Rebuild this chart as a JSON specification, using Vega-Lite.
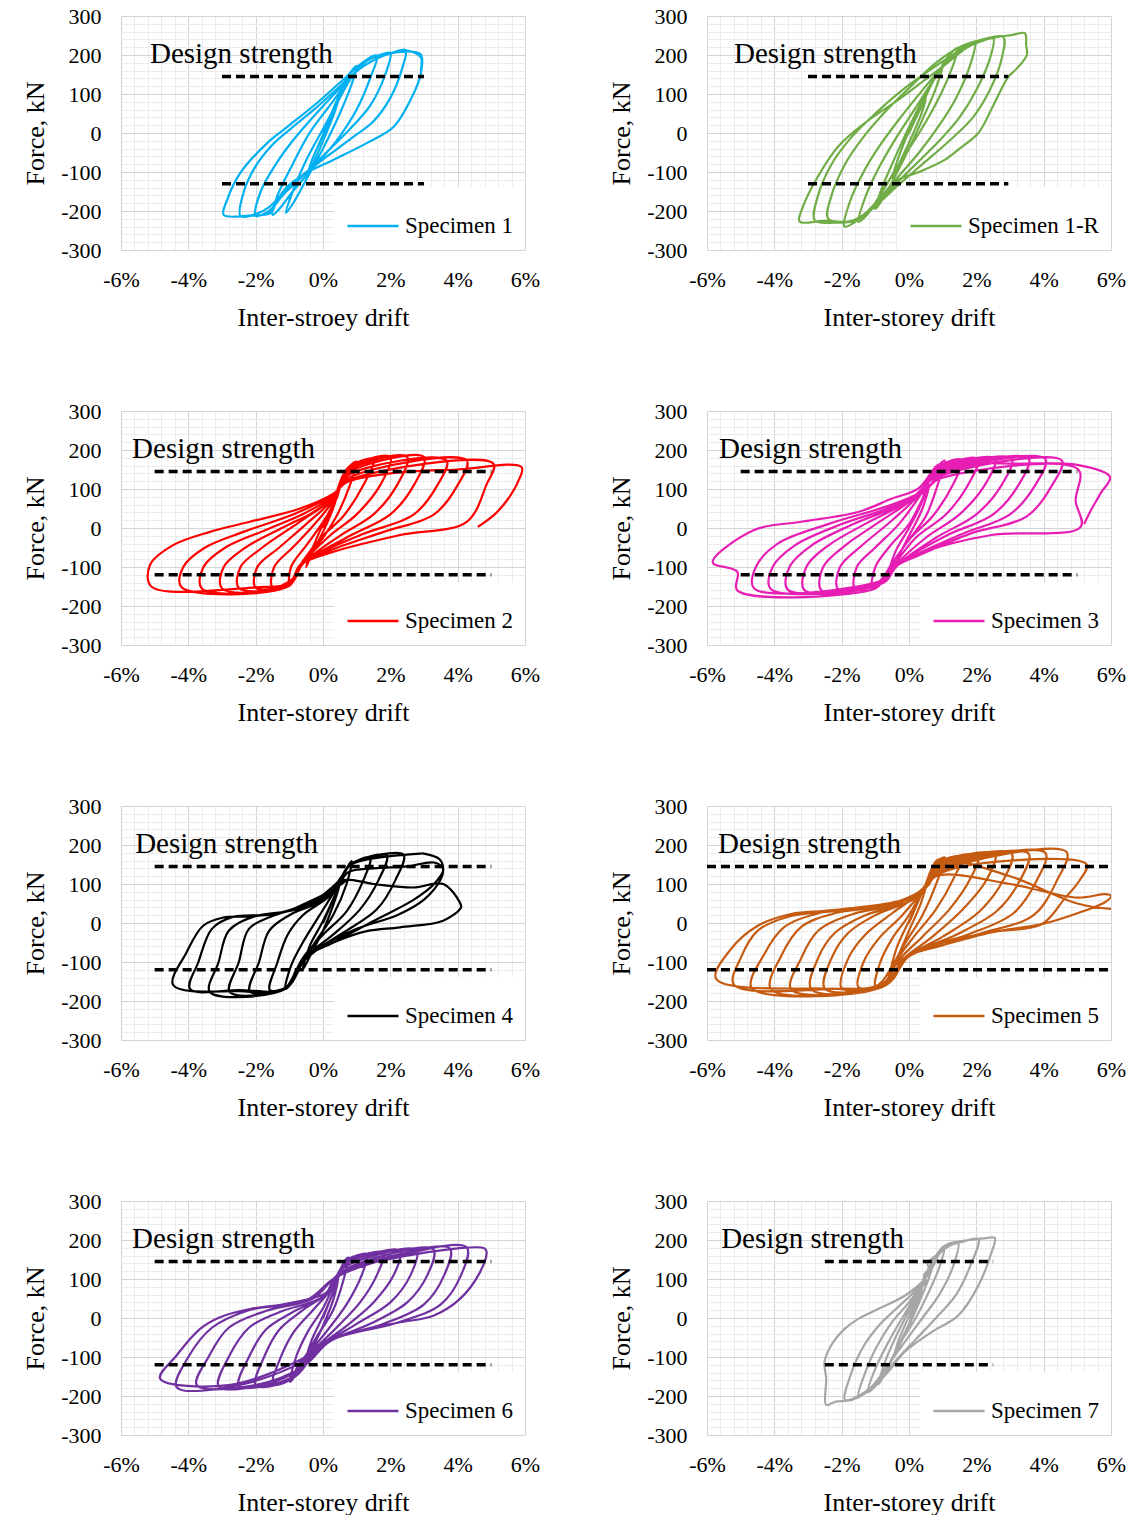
{
"$schema": "https://vega.github.io/schema/vega-lite/v6.json",
"background": "white",
"padding": {"left": 22, "top": 5, "right": 0, "bottom": 0},
"config": {
  "view": {"stroke": null},
  "font": "Liberation Serif",
  "axis": {"grid": true, "ticks": false, "domain": false, "labelFont": "Liberation Serif", "labelFontSize": 22, "labelColor": "#000000", "titleFont": "Liberation Serif", "titleFontSize": 26, "titleFontWeight": "normal", "titleColor": "#000000", "labelOverlap": false, "labelBound": false, "labelFlush": false},
  "axisX": {"labelPadding": 19, "titlePadding": 14},
  "axisY": {"labelPadding": 20, "titlePadding": 12},
  "legend": {"orient": "bottom-right", "offset": 0, "fillColor": "white", "padding": 12, "symbolType": "stroke", "symbolSize": 2600, "symbolStrokeWidth": 2.5, "labelFont": "Liberation Serif", "labelFontSize": 23, "labelColor": "#000000", "labelOffset": 5, "labelLimit": 300}
},
"datasets": {
"ds": [{"t": "Design strength"}],
"s1": [{"d":0,"f":0},{"d":0.25,"f":50},{"d":0.5,"f":100},{"d":0.35,"f":55},{"d":0,"f":-20},{"d":-0.3,"f":-80},{"d":-0.5,"f":-120},{"d":-0.35,"f":-75},{"d":0,"f":-5},{"d":0.4,"f":75},
{"d":0.7,"f":140},{"d":1.0,"f":172},{"d":0.85,"f":125},{"d":0.5,"f":50},{"d":0,"f":-40},{"d":-0.5,"f":-120},{"d":-0.85,"f":-175},{"d":-1.1,"f":-205},{"d":-0.9,"f":-150},{"d":-0.5,"f":-70},{"d":0,"f":10},{"d":0.5,"f":90},
{"d":0.9,"f":150},{"d":1.3,"f":188},{"d":1.6,"f":198},{"d":1.4,"f":140},{"d":1.0,"f":60},{"d":0.4,"f":-20},{"d":-0.3,"f":-90},{"d":-0.9,"f":-150},{"d":-1.3,"f":-195},{"d":-1.5,"f":-210},{"d":-1.35,"f":-160},{"d":-0.9,"f":-80},{"d":-0.4,"f":0},{"d":0.2,"f":70},{"d":0.8,"f":140},
{"d":1.3,"f":185},{"d":1.8,"f":203},{"d":2.0,"f":205},{"d":1.85,"f":150},{"d":1.4,"f":70},{"d":0.8,"f":10},{"d":0.1,"f":-50},{"d":-0.6,"f":-110},{"d":-1.2,"f":-160},{"d":-1.6,"f":-200},{"d":-2.0,"f":-212},{"d":-1.85,"f":-150},{"d":-1.4,"f":-80},{"d":-0.9,"f":-20},{"d":-0.2,"f":50},{"d":0.5,"f":115},{"d":1.1,"f":165},
{"d":1.7,"f":195},{"d":2.1,"f":207},{"d":2.45,"f":213},{"d":2.35,"f":165},{"d":2.0,"f":90},{"d":1.5,"f":30},{"d":0.9,"f":-10},{"d":0.2,"f":-55},{"d":-0.5,"f":-100},{"d":-1.1,"f":-145},{"d":-1.6,"f":-190},{"d":-2.0,"f":-208},{"d":-2.45,"f":-213},{"d":-2.35,"f":-150},{"d":-2.0,"f":-85},{"d":-1.5,"f":-30},{"d":-0.9,"f":15},{"d":-0.2,"f":65},{"d":0.5,"f":120},{"d":1.1,"f":165},
{"d":1.7,"f":195},{"d":2.3,"f":208},{"d":2.9,"f":202},{"d":2.9,"f":150},{"d":2.6,"f":85},{"d":2.1,"f":16},{"d":1.3,"f":-26},{"d":0.3,"f":-69},{"d":-0.5,"f":-103},{"d":-1.07,"f":-138},{"d":-1.4,"f":-180},{"d":-1.55,"f":-205},{"d":-2.2,"f":-212},{"d":-2.95,"f":-210},{"d":-2.85,"f":-172},{"d":-2.46,"f":-103},{"d":-1.66,"f":-26},{"d":-1.07,"f":15},{"d":-0.18,"f":77},{"d":0.59,"f":136},{"d":1.3,"f":187},{"d":2.0,"f":205},{"d":2.45,"f":212},{"d":2.9,"f":195},{"d":2.9,"f":160}],
"s1r": [{"d":0,"f":0},{"d":0.3,"f":55},{"d":0.5,"f":90},{"d":0.35,"f":45},{"d":0,"f":-25},{"d":-0.3,"f":-80},{"d":-0.5,"f":-115},{"d":-0.3,"f":-60},{"d":0,"f":5},{"d":0.4,"f":75},
{"d":0.7,"f":130},{"d":1.0,"f":172},{"d":0.8,"f":115},{"d":0.4,"f":35},{"d":0,"f":-40},{"d":-0.5,"f":-125},{"d":-0.9,"f":-185},{"d":-1.0,"f":-195},{"d":-0.8,"f":-140},{"d":-0.4,"f":-60},{"d":0,"f":15},{"d":0.5,"f":100},
{"d":0.9,"f":160},{"d":1.2,"f":200},{"d":1.45,"f":218},{"d":1.25,"f":160},{"d":0.8,"f":75},{"d":0.3,"f":0},{"d":-0.3,"f":-80},{"d":-0.9,"f":-165},{"d":-1.3,"f":-215},{"d":-1.5,"f":-228},{"d":-1.3,"f":-165},{"d":-0.9,"f":-90},{"d":-0.4,"f":-15},{"d":0.2,"f":65},{"d":0.8,"f":145},
{"d":1.3,"f":200},{"d":1.7,"f":225},{"d":1.96,"f":234},{"d":1.8,"f":170},{"d":1.4,"f":90},{"d":0.9,"f":20},{"d":0.3,"f":-50},{"d":-0.4,"f":-120},{"d":-1.0,"f":-180},{"d":-1.5,"f":-222},{"d":-1.92,"f":-240},{"d":-1.75,"f":-175},{"d":-1.35,"f":-100},{"d":-0.85,"f":-30},{"d":-0.25,"f":40},{"d":0.4,"f":110},{"d":1.0,"f":170},
{"d":1.6,"f":215},{"d":2.1,"f":235},{"d":2.5,"f":243},{"d":2.4,"f":190},{"d":2.0,"f":110},{"d":1.5,"f":40},{"d":0.9,"f":-20},{"d":0.2,"f":-80},{"d":-0.5,"f":-140},{"d":-1.2,"f":-200},{"d":-1.7,"f":-225},{"d":-2.4,"f":-220},{"d":-2.3,"f":-160},{"d":-1.9,"f":-80},{"d":-1.35,"f":-10},{"d":-0.7,"f":55},{"d":0,"f":115},{"d":0.8,"f":180},
{"d":1.5,"f":220},{"d":2.2,"f":240},{"d":2.8,"f":246},{"d":2.75,"f":190},{"d":2.4,"f":110},{"d":1.9,"f":40},{"d":1.2,"f":-20},{"d":0.4,"f":-80},{"d":-0.4,"f":-140},{"d":-1.1,"f":-195},{"d":-1.6,"f":-225},{"d":-2.2,"f":-230},{"d":-2.8,"f":-224},{"d":-2.7,"f":-160},{"d":-2.3,"f":-80},{"d":-1.7,"f":-10},{"d":-1.0,"f":50},{"d":-0.2,"f":110},{"d":0.6,"f":160},
{"d":1.3,"f":200},{"d":2.0,"f":232},{"d":2.6,"f":246},{"d":3.05,"f":251},{"d":3.44,"f":256},{"d":3.48,"f":225},{"d":3.5,"f":200},{"d":3.2,"f":165},{"d":2.95,"f":144},{"d":2.5,"f":70},{"d":2.06,"f":0},{"d":1.5,"f":-40},{"d":1.06,"f":-69},{"d":0.3,"f":-100},{"d":-0.32,"f":-120},{"d":-0.92,"f":-172},{"d":-1.32,"f":-215},{"d":-1.8,"f":-228},{"d":-2.5,"f":-225},{"d":-3.25,"f":-227},{"d":-3.15,"f":-189},{"d":-2.71,"f":-112},{"d":-2.11,"f":-35},{"d":-1.32,"f":25},{"d":-0.32,"f":85},{"d":0.47,"f":136},{"d":1.06,"f":174},{"d":1.76,"f":221},{"d":2.3,"f":240}],
"s2": [{"d":0,"f":0},{"d":0.3,"f":60},{"d":0.5,"f":110},{"d":0.3,"f":50},{"d":0,"f":-10},{"d":-0.3,"f":-60},{"d":-0.5,"f":-100},{"d":-0.3,"f":-50},{"d":0,"f":10},{"d":0.4,"f":80},
{"d":0.7,"f":150},{"d":1.0,"f":170},{"d":0.8,"f":110},{"d":0.4,"f":30},{"d":0,"f":-25},{"d":-0.5,"f":-75},{"d":-0.8,"f":-115},{"d":-1.0,"f":-145},{"d":-0.95,"f":-100},{"d":-0.5,"f":-45},{"d":0,"f":15},{"d":0.4,"f":75},
{"d":0.7,"f":150},{"d":1.5,"f":177},{"d":1.2,"f":110},{"d":0.6,"f":30},{"d":0,"f":-20},{"d":-0.6,"f":-85},{"d":-0.9,"f":-130},{"d":-1.5,"f":-152},{"d":-1.45,"f":-100},{"d":-0.9,"f":-50},{"d":-0.3,"f":5},{"d":0.3,"f":70},
{"d":0.72,"f":150},{"d":2.0,"f":182},{"d":1.7,"f":110},{"d":1.0,"f":35},{"d":0.2,"f":-20},{"d":-0.6,"f":-90},{"d":-0.95,"f":-140},{"d":-2.0,"f":-153},{"d":-1.95,"f":-100},{"d":-1.3,"f":-50},{"d":-0.5,"f":10},{"d":0.3,"f":75},
{"d":0.72,"f":145},{"d":2.5,"f":182},{"d":2.2,"f":110},{"d":1.5,"f":35},{"d":0.5,"f":-20},{"d":-0.6,"f":-92},{"d":-0.98,"f":-145},{"d":-2.5,"f":-154},{"d":-2.45,"f":-100},{"d":-1.8,"f":-50},{"d":-0.7,"f":15},{"d":0.3,"f":78},
{"d":0.73,"f":140},{"d":3.0,"f":182},{"d":2.7,"f":110},{"d":2.0,"f":35},{"d":0.8,"f":-20},{"d":-0.6,"f":-92},{"d":-1.0,"f":-146},{"d":-3.0,"f":-155},{"d":-2.95,"f":-100},{"d":-2.3,"f":-50},{"d":-1.1,"f":5},{"d":-0.3,"f":40},{"d":0.3,"f":80},
{"d":0.74,"f":135},{"d":3.67,"f":173},{"d":3.4,"f":110},{"d":2.7,"f":35},{"d":1.2,"f":-15},{"d":0,"f":-60},{"d":-0.65,"f":-94},{"d":-1.0,"f":-147},{"d":-3.6,"f":-155},{"d":-3.55,"f":-100},{"d":-2.9,"f":-50},{"d":-1.7,"f":-5},{"d":-0.5,"f":40},{"d":0.3,"f":82},
{"d":0.75,"f":128},{"d":4.27,"f":173},{"d":4.0,"f":110},{"d":3.3,"f":35},{"d":1.8,"f":-10},{"d":0.2,"f":-58},{"d":-0.68,"f":-95},{"d":-1.0,"f":-148},{"d":-4.2,"f":-152},{"d":-4.15,"f":-100},{"d":-3.5,"f":-50},{"d":-2.3,"f":-8},{"d":-0.8,"f":38},{"d":0.3,"f":85},
{"d":0.75,"f":122},{"d":5.06,"f":165},{"d":4.85,"f":110},{"d":4.27,"f":16},{"d":2.29,"f":-18},{"d":0.31,"f":-61},{"d":-0.68,"f":-95},{"d":-0.98,"f":-140},{"d":-2.0,"f":-152},{"d":-5.1,"f":-150},{"d":-5.14,"f":-95},{"d":-4.45,"f":-44},{"d":-3.36,"f":-10},{"d":-2.17,"f":16},{"d":-0.68,"f":50},{"d":0.31,"f":88},{"d":0.7,"f":117},
{"d":2.0,"f":140},{"d":4.0,"f":150},{"d":5.9,"f":156},{"d":5.8,"f":120},{"d":5.5,"f":75},{"d":5.1,"f":35},{"d":4.6,"f":3}],
"s3": [{"d":0,"f":0},{"d":0.3,"f":50},{"d":0.6,"f":110},{"d":0.4,"f":50},{"d":0,"f":-20},{"d":-0.3,"f":-70},{"d":-0.6,"f":-115},{"d":-0.4,"f":-60},{"d":0,"f":0},{"d":0.4,"f":70},
{"d":0.7,"f":140},{"d":1.06,"f":173},{"d":0.85,"f":110},{"d":0.5,"f":30},{"d":0,"f":-30},{"d":-0.5,"f":-90},{"d":-0.8,"f":-130},{"d":-1.1,"f":-155},{"d":-1.0,"f":-100},{"d":-0.6,"f":-50},{"d":0,"f":10},{"d":0.4,"f":75},
{"d":0.75,"f":150},{"d":1.56,"f":175},{"d":1.3,"f":110},{"d":0.7,"f":30},{"d":0,"f":-30},{"d":-0.5,"f":-95},{"d":-0.8,"f":-135},{"d":-1.6,"f":-157},{"d":-1.55,"f":-100},{"d":-1.0,"f":-50},{"d":-0.3,"f":10},{"d":0.3,"f":80},
{"d":0.78,"f":148},{"d":2.05,"f":177},{"d":1.75,"f":110},{"d":1.1,"f":35},{"d":0.2,"f":-25},{"d":-0.45,"f":-95},{"d":-0.8,"f":-135},{"d":-2.1,"f":-158},{"d":-2.05,"f":-100},{"d":-1.4,"f":-45},{"d":-0.5,"f":20},{"d":0.3,"f":85},
{"d":0.8,"f":145},{"d":2.55,"f":178},{"d":2.25,"f":110},{"d":1.5,"f":35},{"d":0.5,"f":-25},{"d":-0.4,"f":-95},{"d":-0.8,"f":-140},{"d":-2.6,"f":-160},{"d":-2.55,"f":-100},{"d":-1.9,"f":-45},{"d":-0.8,"f":20},{"d":0.2,"f":80},
{"d":0.82,"f":142},{"d":3.05,"f":178},{"d":2.75,"f":110},{"d":2.0,"f":35},{"d":0.8,"f":-25},{"d":-0.35,"f":-95},{"d":-0.75,"f":-140},{"d":-3.1,"f":-160},{"d":-3.05,"f":-100},{"d":-2.4,"f":-45},{"d":-1.2,"f":15},{"d":0.1,"f":75},
{"d":0.84,"f":138},{"d":3.55,"f":178},{"d":3.25,"f":110},{"d":2.5,"f":35},{"d":1.1,"f":-20},{"d":-0.35,"f":-95},{"d":-0.75,"f":-140},{"d":-3.6,"f":-158},{"d":-3.55,"f":-100},{"d":-2.9,"f":-45},{"d":-1.6,"f":12},{"d":0,"f":70},
{"d":0.85,"f":134},{"d":4.05,"f":177},{"d":3.75,"f":110},{"d":3.0,"f":35},{"d":1.5,"f":-18},{"d":-0.33,"f":-95},{"d":-0.73,"f":-135},{"d":-4.1,"f":-157},{"d":-4.05,"f":-100},{"d":-3.4,"f":-45},{"d":-2.0,"f":10},{"d":-0.3,"f":60},{"d":0.5,"f":95},
{"d":0.86,"f":130},{"d":4.54,"f":173},{"d":4.25,"f":110},{"d":3.5,"f":30},{"d":1.8,"f":-15},{"d":0.3,"f":-70},{"d":-0.33,"f":-95},{"d":-0.73,"f":-132},{"d":-4.6,"f":-155},{"d":-4.55,"f":-100},{"d":-3.9,"f":-40},{"d":-2.4,"f":10},{"d":-0.5,"f":60},{"d":0.5,"f":98},
{"d":0.87,"f":125},{"d":5.03,"f":150},{"d":4.95,"f":70},{"d":5.1,"f":3},{"d":2.45,"f":-18},{"d":0.47,"f":-61},{"d":-0.33,"f":-95},{"d":-0.73,"f":-129},{"d":-1.0,"f":-155},{"d":-5.1,"f":-160},{"d":-5.1,"f":-112},{"d":-5.83,"f":-88},{"d":-4.6,"f":-5},{"d":-3.2,"f":16},{"d":-1.51,"f":41},{"d":-0.52,"f":75},{"d":0.27,"f":101},{"d":0.67,"f":143},{"d":0.87,"f":162},
{"d":3.0,"f":165},{"d":5.0,"f":162},{"d":5.97,"f":131},{"d":5.7,"f":90},{"d":5.4,"f":45},{"d":5.2,"f":10}],
"s4": [{"d":0,"f":0},{"d":0.3,"f":60},{"d":0.5,"f":100},{"d":0.3,"f":45},{"d":0,"f":-20},{"d":-0.3,"f":-70},{"d":-0.6,"f":-120},{"d":-0.4,"f":-60},{"d":0,"f":5},{"d":0.4,"f":80},
{"d":0.7,"f":140},{"d":0.85,"f":159},{"d":0.7,"f":100},{"d":0.3,"f":20},{"d":-0.2,"f":-45},{"d":-0.6,"f":-100},{"d":-0.9,"f":-150},{"d":-1.12,"f":-169},{"d":-0.95,"f":-110},{"d":-0.6,"f":-50},{"d":-0.1,"f":20},{"d":0.4,"f":90},
{"d":0.75,"f":145},{"d":1.4,"f":168},{"d":1.2,"f":110},{"d":0.7,"f":30},{"d":0,"f":-30},{"d":-0.6,"f":-90},{"d":-0.9,"f":-140},{"d":-1.1,"f":-165},{"d":-1.58,"f":-172},{"d":-1.35,"f":-100},{"d":-1.05,"f":-30},{"d":-0.6,"f":20},{"d":0.2,"f":70},{"d":0.6,"f":120},
{"d":0.8,"f":150},{"d":1.89,"f":173},{"d":1.65,"f":110},{"d":1.1,"f":35},{"d":0.3,"f":-30},{"d":-0.5,"f":-85},{"d":-0.8,"f":-125},{"d":-1.1,"f":-168},{"d":-2.17,"f":-175},{"d":-1.9,"f":-100},{"d":-1.6,"f":-20},{"d":-1.0,"f":20},{"d":0,"f":60},{"d":0.6,"f":125},
{"d":0.82,"f":150},{"d":2.39,"f":175},{"d":2.15,"f":110},{"d":1.6,"f":35},{"d":0.6,"f":-25},{"d":-0.45,"f":-84},{"d":-0.78,"f":-120},{"d":-1.1,"f":-168},{"d":-2.77,"f":-177},{"d":-2.5,"f":-100},{"d":-2.2,"f":-15},{"d":-1.5,"f":18},{"d":-0.4,"f":50},{"d":0.5,"f":110},
{"d":0.84,"f":150},{"d":2.88,"f":178},{"d":3.0,"f":178},{"d":3.47,"f":163},{"d":3.57,"f":138},{"d":3.5,"f":113},{"d":3.0,"f":60},{"d":2.2,"f":20},{"d":1.0,"f":-15},{"d":-0.2,"f":-70},{"d":-0.7,"f":-110},{"d":-1.1,"f":-168},{"d":-3.36,"f":-177},{"d":-3.1,"f":-100},{"d":-2.8,"f":-20},{"d":-2.1,"f":15},{"d":-0.8,"f":35},{"d":0.3,"f":80},
{"d":0.75,"f":130},{"d":1.5,"f":140},{"d":2.5,"f":145},{"d":3.3,"f":155},{"d":3.57,"f":138},{"d":3.3,"f":100},{"d":2.7,"f":60},{"d":1.5,"f":5},{"d":0.31,"f":-50},{"d":-0.48,"f":-84},{"d":-0.78,"f":-118},{"d":-1.12,"f":-169},{"d":-2.5,"f":-172},{"d":-3.95,"f":-169},{"d":-3.7,"f":-100},{"d":-3.3,"f":-15},{"d":-2.7,"f":15},{"d":-1.5,"f":22},{"d":-0.5,"f":48},{"d":0.3,"f":82},{"d":0.6,"f":110},
{"d":1.5,"f":100},{"d":2.68,"f":91},{"d":3.57,"f":100},{"d":4.07,"f":52},{"d":4.1,"f":40},{"d":3.57,"f":6},{"d":2.29,"f":-11},{"d":1.3,"f":-21},{"d":0.31,"f":-50},{"d":-0.48,"f":-84},{"d":-0.78,"f":-118},{"d":-1.12,"f":-169},{"d":-2.5,"f":-175},{"d":-4.45,"f":-159},{"d":-4.05,"f":-75},{"d":-3.56,"f":-7},{"d":-2.96,"f":14},{"d":-2.17,"f":17},{"d":-1.18,"f":27},{"d":-0.48,"f":52},{"d":0.31,"f":86},{"d":0.7,"f":110}],
"s5": [{"d":0,"f":0},{"d":0.3,"f":60},{"d":0.55,"f":110},{"d":0.35,"f":50},{"d":0,"f":-20},{"d":-0.3,"f":-80},{"d":-0.55,"f":-125},{"d":-0.35,"f":-60},{"d":0,"f":5},{"d":0.45,"f":90},
{"d":0.75,"f":150},{"d":1.06,"f":168},{"d":0.85,"f":110},{"d":0.4,"f":20},{"d":-0.1,"f":-50},{"d":-0.5,"f":-110},{"d":-0.8,"f":-150},{"d":-1.0,"f":-160},{"d":-0.85,"f":-100},{"d":-0.5,"f":-40},{"d":0,"f":20},{"d":0.5,"f":100},
{"d":0.78,"f":150},{"d":1.56,"f":170},{"d":1.3,"f":110},{"d":0.8,"f":35},{"d":0.1,"f":-40},{"d":-0.45,"f":-105},{"d":-0.7,"f":-150},{"d":-1.5,"f":-165},{"d":-1.35,"f":-100},{"d":-0.9,"f":-40},{"d":-0.2,"f":20},{"d":0.5,"f":95},
{"d":0.8,"f":150},{"d":2.05,"f":173},{"d":1.8,"f":110},{"d":1.2,"f":35},{"d":0.4,"f":-35},{"d":-0.35,"f":-100},{"d":-0.7,"f":-155},{"d":-2.0,"f":-167},{"d":-1.8,"f":-90},{"d":-1.3,"f":-30},{"d":-0.5,"f":25},{"d":0.4,"f":85},
{"d":0.82,"f":148},{"d":2.55,"f":176},{"d":2.3,"f":110},{"d":1.6,"f":35},{"d":0.7,"f":-35},{"d":-0.2,"f":-95},{"d":-0.7,"f":-158},{"d":-2.5,"f":-168},{"d":-2.3,"f":-90},{"d":-1.8,"f":-25},{"d":-1.0,"f":20},{"d":0.2,"f":65},{"d":0.6,"f":110},
{"d":0.84,"f":145},{"d":3.05,"f":178},{"d":2.8,"f":110},{"d":2.1,"f":30},{"d":1.0,"f":-35},{"d":-0.1,"f":-90},{"d":-0.7,"f":-160},{"d":-2.9,"f":-170},{"d":-2.7,"f":-90},{"d":-2.2,"f":-25},{"d":-1.3,"f":20},{"d":0,"f":55},{"d":0.6,"f":100},
{"d":0.85,"f":140},{"d":3.55,"f":178},{"d":3.3,"f":110},{"d":2.6,"f":30},{"d":1.4,"f":-30},{"d":0,"f":-85},{"d":-0.7,"f":-160},{"d":-3.5,"f":-170},{"d":-3.2,"f":-90},{"d":-2.7,"f":-20},{"d":-1.7,"f":22},{"d":-0.3,"f":50},{"d":0.5,"f":95},
{"d":0.86,"f":135},{"d":4.05,"f":180},{"d":3.8,"f":110},{"d":3.1,"f":25},{"d":1.8,"f":-28},{"d":0.3,"f":-70},{"d":-0.52,"f":-118},{"d":-0.72,"f":-160},{"d":-4.1,"f":-170},{"d":-3.8,"f":-85},{"d":-3.2,"f":-10},{"d":-2.2,"f":25},{"d":-0.7,"f":45},{"d":0.4,"f":85},
{"d":0.87,"f":130},{"d":4.68,"f":182},{"d":4.4,"f":110},{"d":3.7,"f":20},{"d":2.2,"f":-25},{"d":0.5,"f":-65},{"d":-0.52,"f":-118},{"d":-0.72,"f":-160},{"d":-4.67,"f":-167},{"d":-4.3,"f":-80},{"d":-3.7,"f":-10},{"d":-2.6,"f":27},{"d":-1.0,"f":42},{"d":0.3,"f":75},
{"d":0.87,"f":125},{"d":3.0,"f":160},{"d":5.28,"f":150},{"d":5.08,"f":111},{"d":4.6,"f":60},{"d":3.94,"f":-3},{"d":2.45,"f":-24},{"d":0.96,"f":-58},{"d":-0.03,"f":-84},{"d":-0.52,"f":-118},{"d":-0.72,"f":-160},{"d":-2.0,"f":-168},{"d":-5.2,"f":-158},{"d":-5.0,"f":-90},{"d":-4.5,"f":-20},{"d":-3.5,"f":18},{"d":-2.0,"f":32},{"d":-0.5,"f":50},{"d":0.3,"f":72},
{"d":0.8,"f":120},{"d":3.0,"f":100},{"d":5.0,"f":65},{"d":5.83,"f":74},{"d":6.0,"f":70},{"d":5.85,"f":55},{"d":5.0,"f":25},{"d":3.94,"f":-3},{"d":2.45,"f":-24},{"d":0.96,"f":-58},{"d":-0.03,"f":-84},{"d":-0.52,"f":-118},{"d":-0.72,"f":-160},{"d":-2.5,"f":-168},{"d":-5.73,"f":-143},{"d":-5.29,"f":-67},{"d":-4.49,"f":-7},{"d":-3.5,"f":23},{"d":-2.5,"f":31},{"d":-1.51,"f":40},{"d":-0.52,"f":52},{"d":0.17,"f":69},{"d":0.47,"f":95},{"d":0.67,"f":137},{"d":0.87,"f":163},
{"d":3.0,"f":120},{"d":5.0,"f":50},{"d":6.0,"f":36}],
"s6": [{"d":0,"f":0},{"d":0.25,"f":55},{"d":0.45,"f":100},{"d":0.3,"f":45},{"d":0,"f":-20},{"d":-0.3,"f":-75},{"d":-0.55,"f":-120},{"d":-0.35,"f":-60},{"d":0,"f":5},{"d":0.35,"f":75},
{"d":0.6,"f":140},{"d":0.75,"f":155},{"d":0.6,"f":95},{"d":0.3,"f":20},{"d":-0.2,"f":-50},{"d":-0.6,"f":-110},{"d":-0.85,"f":-150},{"d":-0.98,"f":-164},{"d":-0.8,"f":-100},{"d":-0.45,"f":-35},{"d":0,"f":25},{"d":0.4,"f":100},
{"d":0.65,"f":145},{"d":1.0,"f":160},{"d":1.3,"f":164},{"d":1.15,"f":110},{"d":0.7,"f":35},{"d":0.1,"f":-35},{"d":-0.45,"f":-95},{"d":-0.8,"f":-145},{"d":-1.2,"f":-168},{"d":-1.5,"f":-170},{"d":-1.3,"f":-110},{"d":-0.9,"f":-40},{"d":-0.3,"f":20},{"d":0.3,"f":80},
{"d":0.65,"f":140},{"d":1.2,"f":162},{"d":1.79,"f":168},{"d":1.6,"f":110},{"d":1.1,"f":40},{"d":0.4,"f":-25},{"d":-0.35,"f":-90},{"d":-0.75,"f":-145},{"d":-1.3,"f":-170},{"d":-2.0,"f":-172},{"d":-1.75,"f":-100},{"d":-1.3,"f":-30},{"d":-0.6,"f":20},{"d":0.2,"f":70},
{"d":0.6,"f":135},{"d":1.4,"f":163},{"d":2.29,"f":172},{"d":2.1,"f":110},{"d":1.5,"f":40},{"d":0.7,"f":-20},{"d":-0.2,"f":-80},{"d":-0.7,"f":-140},{"d":-1.5,"f":-170},{"d":-2.5,"f":-174},{"d":-2.2,"f":-100},{"d":-1.7,"f":-30},{"d":-0.9,"f":15},{"d":0.1,"f":60},
{"d":0.55,"f":125},{"d":1.6,"f":162},{"d":2.78,"f":174},{"d":2.6,"f":110},{"d":2.0,"f":40},{"d":1.0,"f":-15},{"d":0,"f":-70},{"d":-0.65,"f":-130},{"d":-1.8,"f":-172},{"d":-3.1,"f":-175},{"d":-2.8,"f":-100},{"d":-2.2,"f":-25},{"d":-1.3,"f":15},{"d":0,"f":55},
{"d":0.5,"f":115},{"d":1.8,"f":160},{"d":3.28,"f":176},{"d":3.1,"f":110},{"d":2.5,"f":40},{"d":1.4,"f":-15},{"d":0.2,"f":-60},{"d":-0.6,"f":-125},{"d":-2.0,"f":-172},{"d":-3.75,"f":-172},{"d":-3.4,"f":-100},{"d":-2.8,"f":-25},{"d":-1.7,"f":18},{"d":-0.3,"f":50},
{"d":0.45,"f":110},{"d":2.0,"f":158},{"d":3.77,"f":178},{"d":3.6,"f":110},{"d":3.0,"f":35},{"d":1.8,"f":-15},{"d":0.3,"f":-55},{"d":-0.55,"f":-110},{"d":-2.5,"f":-172},{"d":-4.35,"f":-177},{"d":-4.0,"f":-100},{"d":-3.3,"f":-25},{"d":-2.2,"f":20},{"d":-0.5,"f":45},
{"d":0.4,"f":105},{"d":2.2,"f":158},{"d":4.27,"f":181},{"d":4.1,"f":110},{"d":3.5,"f":35},{"d":2.2,"f":-12},{"d":0.31,"f":-54},{"d":-0.5,"f":-100},{"d":-2.8,"f":-172},{"d":-4.84,"f":-155},{"d":-4.35,"f":-96},{"d":-3.65,"f":-28},{"d":-3.06,"f":2},{"d":-2.17,"f":23},{"d":-1.18,"f":35},{"d":-0.39,"f":49},{"d":0.11,"f":66},{"d":0.4,"f":108},
{"d":2.5,"f":160},{"d":4.81,"f":178},{"d":4.86,"f":168},{"d":4.66,"f":117},{"d":4.07,"f":49},{"d":3.28,"f":6},{"d":2.29,"f":-11},{"d":1.3,"f":-28},{"d":0.31,"f":-54},{"d":-0.29,"f":-79},{"d":-0.68,"f":-113},{"d":-0.88,"f":-147},{"d":-0.98,"f":-164}],
"s7": [{"d":0,"f":0},{"d":0.2,"f":40},{"d":0.4,"f":80},{"d":0.25,"f":40},{"d":0,"f":-15},{"d":-0.25,"f":-60},{"d":-0.45,"f":-100},{"d":-0.3,"f":-55},{"d":0,"f":5},{"d":0.3,"f":70},
{"d":0.55,"f":120},{"d":0.75,"f":150},{"d":0.6,"f":105},{"d":0.3,"f":40},{"d":0,"f":-20},{"d":-0.4,"f":-90},{"d":-0.7,"f":-140},{"d":-0.9,"f":-170},{"d":-0.7,"f":-110},{"d":-0.4,"f":-50},{"d":0,"f":20},{"d":0.3,"f":75},
{"d":0.6,"f":130},{"d":0.9,"f":172},{"d":1.06,"f":185},{"d":0.9,"f":130},{"d":0.55,"f":60},{"d":0.2,"f":0},{"d":-0.3,"f":-70},{"d":-0.7,"f":-135},{"d":-1.0,"f":-175},{"d":-1.22,"f":-189},{"d":-1.0,"f":-130},{"d":-0.6,"f":-60},{"d":-0.2,"f":0},{"d":0.3,"f":70},{"d":0.5,"f":95},{"d":0.45,"f":110},{"d":0.65,"f":130},
{"d":0.9,"f":165},{"d":1.2,"f":185},{"d":1.46,"f":193},{"d":1.3,"f":130},{"d":0.9,"f":60},{"d":0.4,"f":0},{"d":-0.2,"f":-70},{"d":-0.7,"f":-130},{"d":-1.1,"f":-175},{"d":-1.5,"f":-200},{"d":-1.3,"f":-140},{"d":-1.0,"f":-80},{"d":-0.5,"f":-10},{"d":0,"f":40},{"d":0.4,"f":90},{"d":0.6,"f":125},{"d":0.55,"f":140},{"d":0.8,"f":160},
{"d":1.2,"f":185},{"d":1.6,"f":196},{"d":2.06,"f":202},{"d":1.85,"f":140},{"d":1.4,"f":60},{"d":0.8,"f":0},{"d":0.2,"f":-55},{"d":-0.4,"f":-110},{"d":-0.9,"f":-160},{"d":-1.4,"f":-195},{"d":-1.9,"f":-210},{"d":-1.75,"f":-150},{"d":-1.4,"f":-80},{"d":-0.9,"f":-20},{"d":-0.3,"f":30},{"d":0.3,"f":80},{"d":0.7,"f":130},
{"d":1.06,"f":185},{"d":1.8,"f":200},{"d":2.3,"f":205},{"d":2.55,"f":205},{"d":2.45,"f":168},{"d":2.06,"f":83},{"d":1.46,"f":6},{"d":0.67,"f":-36},{"d":-0.13,"f":-87},{"d":-0.62,"f":-138},{"d":-1.22,"f":-189},{"d":-1.7,"f":-210},{"d":-2.2,"f":-215},{"d":-2.46,"f":-223},{"d":-2.46,"f":-155},{"d":-2.51,"f":-113},{"d":-2.31,"f":-70},{"d":-1.91,"f":-28},{"d":-1.52,"f":-3},{"d":-0.92,"f":23},{"d":-0.13,"f":57},{"d":0.47,"f":100},{"d":0.9,"f":168}]
},
"vconcat": [
{"hconcat": [
{"width": 404, "height": 234, "resolve": {"axis": {"x": "independent", "y": "independent"}},
 "layer": [
  {"data": {"name": "s1"}, "mark": {"type": "line", "strokeWidth": 2.2, "interpolate": "catmull-rom", "clip": true}, "encoding": {
   "x": {"field": "d", "type": "quantitative", "scale": {"domain": [-6, 6], "nice": false, "zero": false}, "axis": {"title": "Inter-stroey drift", "values": [-6,-5.6,-5.2,-4.8,-4.4,-4,-3.6,-3.2,-2.8,-2.4,-2,-1.6,-1.2,-0.8,-0.4,0,0.4,0.8,1.2,1.6,2,2.4,2.8,3.2,3.6,4,4.4,4.8,5.2,5.6,6], "labelExpr": "abs(datum.value/2-round(datum.value/2))<0.001 ? datum.value+'%' : ''", "gridColor": {"condition": {"test": "abs(datum.value/2-round(datum.value/2))<0.001", "value": "#d4d4d4"}, "value": "#ececec"}}},
   "y": {"field": "f", "type": "quantitative", "scale": {"domain": [-300, 300], "nice": false, "zero": false}, "axis": {"title": "Force, kN", "values": [-300,-280,-260,-240,-220,-200,-180,-160,-140,-120,-100,-80,-60,-40,-20,0,20,40,60,80,100,120,140,160,180,200,220,240,260,280,300], "labelExpr": "datum.value%100==0 ? ''+datum.value : ''", "gridColor": {"condition": {"test": "datum.value%100==0", "value": "#d4d4d4"}, "value": "#ececec"}}},
   "order": {"value": null}, "color": {"datum": "Specimen 1", "type": "nominal", "scale": {"range": ["#00b0f0"]}, "legend": {"title": null}}}},
  {"data": {"name": "ds"}, "mark": {"type": "rule", "color": "black", "strokeWidth": 3.5, "strokeDash": [9, 5]}, "encoding": {"x": {"datum": -3, "axis": null}, "x2": {"datum": 3}, "y": {"datum": 145, "axis": null}}},
  {"data": {"name": "ds"}, "mark": {"type": "rule", "color": "black", "strokeWidth": 3.5, "strokeDash": [9, 5]}, "encoding": {"x": {"datum": -3, "axis": null}, "x2": {"datum": 3}, "y": {"datum": -130, "axis": null}}},
  {"data": {"name": "ds"}, "mark": {"type": "text", "align": "left", "baseline": "alphabetic", "fontSize": 29, "font": "Liberation Serif", "color": "black"}, "encoding": {"text": {"field": "t"}, "x": {"datum": -5.14, "axis": null}, "y": {"datum": 179, "axis": null}}}
 ]},
{"width": 404, "height": 234, "resolve": {"axis": {"x": "independent", "y": "independent"}},
 "layer": [
  {"data": {"name": "s1r"}, "mark": {"type": "line", "strokeWidth": 2.2, "interpolate": "catmull-rom", "clip": true}, "encoding": {
   "x": {"field": "d", "type": "quantitative", "scale": {"domain": [-6, 6], "nice": false, "zero": false}, "axis": {"title": "Inter-storey drift", "values": [-6,-5.6,-5.2,-4.8,-4.4,-4,-3.6,-3.2,-2.8,-2.4,-2,-1.6,-1.2,-0.8,-0.4,0,0.4,0.8,1.2,1.6,2,2.4,2.8,3.2,3.6,4,4.4,4.8,5.2,5.6,6], "labelExpr": "abs(datum.value/2-round(datum.value/2))<0.001 ? datum.value+'%' : ''", "gridColor": {"condition": {"test": "abs(datum.value/2-round(datum.value/2))<0.001", "value": "#d4d4d4"}, "value": "#ececec"}}},
   "y": {"field": "f", "type": "quantitative", "scale": {"domain": [-300, 300], "nice": false, "zero": false}, "axis": {"title": "Force, kN", "values": [-300,-280,-260,-240,-220,-200,-180,-160,-140,-120,-100,-80,-60,-40,-20,0,20,40,60,80,100,120,140,160,180,200,220,240,260,280,300], "labelExpr": "datum.value%100==0 ? ''+datum.value : ''", "gridColor": {"condition": {"test": "datum.value%100==0", "value": "#d4d4d4"}, "value": "#ececec"}}},
   "order": {"value": null}, "color": {"datum": "Specimen 1-R", "type": "nominal", "scale": {"range": ["#70ad47"]}, "legend": {"title": null}}}},
  {"data": {"name": "ds"}, "mark": {"type": "rule", "color": "black", "strokeWidth": 3.5, "strokeDash": [9, 5]}, "encoding": {"x": {"datum": -3, "axis": null}, "x2": {"datum": 2.95}, "y": {"datum": 145, "axis": null}}},
  {"data": {"name": "ds"}, "mark": {"type": "rule", "color": "black", "strokeWidth": 3.5, "strokeDash": [9, 5]}, "encoding": {"x": {"datum": -3, "axis": null}, "x2": {"datum": 2.95}, "y": {"datum": -130, "axis": null}}},
  {"data": {"name": "ds"}, "mark": {"type": "text", "align": "left", "baseline": "alphabetic", "fontSize": 29, "font": "Liberation Serif", "color": "black"}, "encoding": {"text": {"field": "t"}, "x": {"datum": -5.2, "axis": null}, "y": {"datum": 179, "axis": null}}}
 ]}
], "spacing": 68, "resolve": {"scale": {"color": "independent"}}},
{"hconcat": [
{"width": 404, "height": 234, "resolve": {"axis": {"x": "independent", "y": "independent"}},
 "layer": [
  {"data": {"name": "s2"}, "mark": {"type": "line", "strokeWidth": 2.2, "interpolate": "catmull-rom", "clip": true}, "encoding": {
   "x": {"field": "d", "type": "quantitative", "scale": {"domain": [-6, 6], "nice": false, "zero": false}, "axis": {"title": "Inter-storey drift", "values": [-6,-5.6,-5.2,-4.8,-4.4,-4,-3.6,-3.2,-2.8,-2.4,-2,-1.6,-1.2,-0.8,-0.4,0,0.4,0.8,1.2,1.6,2,2.4,2.8,3.2,3.6,4,4.4,4.8,5.2,5.6,6], "labelExpr": "abs(datum.value/2-round(datum.value/2))<0.001 ? datum.value+'%' : ''", "gridColor": {"condition": {"test": "abs(datum.value/2-round(datum.value/2))<0.001", "value": "#d4d4d4"}, "value": "#ececec"}}},
   "y": {"field": "f", "type": "quantitative", "scale": {"domain": [-300, 300], "nice": false, "zero": false}, "axis": {"title": "Force, kN", "values": [-300,-280,-260,-240,-220,-200,-180,-160,-140,-120,-100,-80,-60,-40,-20,0,20,40,60,80,100,120,140,160,180,200,220,240,260,280,300], "labelExpr": "datum.value%100==0 ? ''+datum.value : ''", "gridColor": {"condition": {"test": "datum.value%100==0", "value": "#d4d4d4"}, "value": "#ececec"}}},
   "order": {"value": null}, "color": {"datum": "Specimen 2", "type": "nominal", "scale": {"range": ["#ff0000"]}, "legend": {"title": null}}}},
  {"data": {"name": "ds"}, "mark": {"type": "rule", "color": "black", "strokeWidth": 3.5, "strokeDash": [9, 5]}, "encoding": {"x": {"datum": -5, "axis": null}, "x2": {"datum": 5}, "y": {"datum": 145, "axis": null}}},
  {"data": {"name": "ds"}, "mark": {"type": "rule", "color": "black", "strokeWidth": 3.5, "strokeDash": [9, 5]}, "encoding": {"x": {"datum": -5, "axis": null}, "x2": {"datum": 5}, "y": {"datum": -120, "axis": null}}},
  {"data": {"name": "ds"}, "mark": {"type": "text", "align": "left", "baseline": "alphabetic", "fontSize": 29, "font": "Liberation Serif", "color": "black"}, "encoding": {"text": {"field": "t"}, "x": {"datum": -5.67, "axis": null}, "y": {"datum": 179, "axis": null}}}
 ]},
{"width": 404, "height": 234, "resolve": {"axis": {"x": "independent", "y": "independent"}},
 "layer": [
  {"data": {"name": "s3"}, "mark": {"type": "line", "strokeWidth": 2.2, "interpolate": "catmull-rom", "clip": true}, "encoding": {
   "x": {"field": "d", "type": "quantitative", "scale": {"domain": [-6, 6], "nice": false, "zero": false}, "axis": {"title": "Inter-storey drift", "values": [-6,-5.6,-5.2,-4.8,-4.4,-4,-3.6,-3.2,-2.8,-2.4,-2,-1.6,-1.2,-0.8,-0.4,0,0.4,0.8,1.2,1.6,2,2.4,2.8,3.2,3.6,4,4.4,4.8,5.2,5.6,6], "labelExpr": "abs(datum.value/2-round(datum.value/2))<0.001 ? datum.value+'%' : ''", "gridColor": {"condition": {"test": "abs(datum.value/2-round(datum.value/2))<0.001", "value": "#d4d4d4"}, "value": "#ececec"}}},
   "y": {"field": "f", "type": "quantitative", "scale": {"domain": [-300, 300], "nice": false, "zero": false}, "axis": {"title": "Force, kN", "values": [-300,-280,-260,-240,-220,-200,-180,-160,-140,-120,-100,-80,-60,-40,-20,0,20,40,60,80,100,120,140,160,180,200,220,240,260,280,300], "labelExpr": "datum.value%100==0 ? ''+datum.value : ''", "gridColor": {"condition": {"test": "datum.value%100==0", "value": "#d4d4d4"}, "value": "#ececec"}}},
   "order": {"value": null}, "color": {"datum": "Specimen 3", "type": "nominal", "scale": {"range": ["#e61eb4"]}, "legend": {"title": null}}}},
  {"data": {"name": "ds"}, "mark": {"type": "rule", "color": "black", "strokeWidth": 3.5, "strokeDash": [9, 5]}, "encoding": {"x": {"datum": -5, "axis": null}, "x2": {"datum": 5}, "y": {"datum": 145, "axis": null}}},
  {"data": {"name": "ds"}, "mark": {"type": "rule", "color": "black", "strokeWidth": 3.5, "strokeDash": [9, 5]}, "encoding": {"x": {"datum": -5, "axis": null}, "x2": {"datum": 5}, "y": {"datum": -120, "axis": null}}},
  {"data": {"name": "ds"}, "mark": {"type": "text", "align": "left", "baseline": "alphabetic", "fontSize": 29, "font": "Liberation Serif", "color": "black"}, "encoding": {"text": {"field": "t"}, "x": {"datum": -5.64, "axis": null}, "y": {"datum": 179, "axis": null}}}
 ]}
], "spacing": 68, "resolve": {"scale": {"color": "independent"}}},
{"hconcat": [
{"width": 404, "height": 234, "resolve": {"axis": {"x": "independent", "y": "independent"}},
 "layer": [
  {"data": {"name": "s4"}, "mark": {"type": "line", "strokeWidth": 2.2, "interpolate": "catmull-rom", "clip": true}, "encoding": {
   "x": {"field": "d", "type": "quantitative", "scale": {"domain": [-6, 6], "nice": false, "zero": false}, "axis": {"title": "Inter-storey drift", "values": [-6,-5.6,-5.2,-4.8,-4.4,-4,-3.6,-3.2,-2.8,-2.4,-2,-1.6,-1.2,-0.8,-0.4,0,0.4,0.8,1.2,1.6,2,2.4,2.8,3.2,3.6,4,4.4,4.8,5.2,5.6,6], "labelExpr": "abs(datum.value/2-round(datum.value/2))<0.001 ? datum.value+'%' : ''", "gridColor": {"condition": {"test": "abs(datum.value/2-round(datum.value/2))<0.001", "value": "#d4d4d4"}, "value": "#ececec"}}},
   "y": {"field": "f", "type": "quantitative", "scale": {"domain": [-300, 300], "nice": false, "zero": false}, "axis": {"title": "Force, kN", "values": [-300,-280,-260,-240,-220,-200,-180,-160,-140,-120,-100,-80,-60,-40,-20,0,20,40,60,80,100,120,140,160,180,200,220,240,260,280,300], "labelExpr": "datum.value%100==0 ? ''+datum.value : ''", "gridColor": {"condition": {"test": "datum.value%100==0", "value": "#d4d4d4"}, "value": "#ececec"}}},
   "order": {"value": null}, "color": {"datum": "Specimen 4", "type": "nominal", "scale": {"range": ["#000000"]}, "legend": {"title": null}}}},
  {"data": {"name": "ds"}, "mark": {"type": "rule", "color": "black", "strokeWidth": 3.5, "strokeDash": [9, 5]}, "encoding": {"x": {"datum": -5, "axis": null}, "x2": {"datum": 5}, "y": {"datum": 145, "axis": null}}},
  {"data": {"name": "ds"}, "mark": {"type": "rule", "color": "black", "strokeWidth": 3.5, "strokeDash": [9, 5]}, "encoding": {"x": {"datum": -5, "axis": null}, "x2": {"datum": 5}, "y": {"datum": -120, "axis": null}}},
  {"data": {"name": "ds"}, "mark": {"type": "text", "align": "left", "baseline": "alphabetic", "fontSize": 29, "font": "Liberation Serif", "color": "black"}, "encoding": {"text": {"field": "t"}, "x": {"datum": -5.58, "axis": null}, "y": {"datum": 179, "axis": null}}}
 ]},
{"width": 404, "height": 234, "resolve": {"axis": {"x": "independent", "y": "independent"}},
 "layer": [
  {"data": {"name": "s5"}, "mark": {"type": "line", "strokeWidth": 2.2, "interpolate": "catmull-rom", "clip": true}, "encoding": {
   "x": {"field": "d", "type": "quantitative", "scale": {"domain": [-6, 6], "nice": false, "zero": false}, "axis": {"title": "Inter-storey drift", "values": [-6,-5.6,-5.2,-4.8,-4.4,-4,-3.6,-3.2,-2.8,-2.4,-2,-1.6,-1.2,-0.8,-0.4,0,0.4,0.8,1.2,1.6,2,2.4,2.8,3.2,3.6,4,4.4,4.8,5.2,5.6,6], "labelExpr": "abs(datum.value/2-round(datum.value/2))<0.001 ? datum.value+'%' : ''", "gridColor": {"condition": {"test": "abs(datum.value/2-round(datum.value/2))<0.001", "value": "#d4d4d4"}, "value": "#ececec"}}},
   "y": {"field": "f", "type": "quantitative", "scale": {"domain": [-300, 300], "nice": false, "zero": false}, "axis": {"title": "Force, kN", "values": [-300,-280,-260,-240,-220,-200,-180,-160,-140,-120,-100,-80,-60,-40,-20,0,20,40,60,80,100,120,140,160,180,200,220,240,260,280,300], "labelExpr": "datum.value%100==0 ? ''+datum.value : ''", "gridColor": {"condition": {"test": "datum.value%100==0", "value": "#d4d4d4"}, "value": "#ececec"}}},
   "order": {"value": null}, "color": {"datum": "Specimen 5", "type": "nominal", "scale": {"range": ["#c55a11"]}, "legend": {"title": null}}}},
  {"data": {"name": "ds"}, "mark": {"type": "rule", "color": "black", "strokeWidth": 3.5, "strokeDash": [9, 5]}, "encoding": {"x": {"datum": -6, "axis": null}, "x2": {"datum": 6}, "y": {"datum": 145, "axis": null}}},
  {"data": {"name": "ds"}, "mark": {"type": "rule", "color": "black", "strokeWidth": 3.5, "strokeDash": [9, 5]}, "encoding": {"x": {"datum": -6, "axis": null}, "x2": {"datum": 6}, "y": {"datum": -120, "axis": null}}},
  {"data": {"name": "ds"}, "mark": {"type": "text", "align": "left", "baseline": "alphabetic", "fontSize": 29, "font": "Liberation Serif", "color": "black"}, "encoding": {"text": {"field": "t"}, "x": {"datum": -5.67, "axis": null}, "y": {"datum": 179, "axis": null}}}
 ]}
], "spacing": 68, "resolve": {"scale": {"color": "independent"}}},
{"hconcat": [
{"width": 404, "height": 234, "resolve": {"axis": {"x": "independent", "y": "independent"}},
 "layer": [
  {"data": {"name": "s6"}, "mark": {"type": "line", "strokeWidth": 2.2, "interpolate": "catmull-rom", "clip": true}, "encoding": {
   "x": {"field": "d", "type": "quantitative", "scale": {"domain": [-6, 6], "nice": false, "zero": false}, "axis": {"title": "Inter-storey drift", "values": [-6,-5.6,-5.2,-4.8,-4.4,-4,-3.6,-3.2,-2.8,-2.4,-2,-1.6,-1.2,-0.8,-0.4,0,0.4,0.8,1.2,1.6,2,2.4,2.8,3.2,3.6,4,4.4,4.8,5.2,5.6,6], "labelExpr": "abs(datum.value/2-round(datum.value/2))<0.001 ? datum.value+'%' : ''", "gridColor": {"condition": {"test": "abs(datum.value/2-round(datum.value/2))<0.001", "value": "#d4d4d4"}, "value": "#ececec"}}},
   "y": {"field": "f", "type": "quantitative", "scale": {"domain": [-300, 300], "nice": false, "zero": false}, "axis": {"title": "Force, kN", "values": [-300,-280,-260,-240,-220,-200,-180,-160,-140,-120,-100,-80,-60,-40,-20,0,20,40,60,80,100,120,140,160,180,200,220,240,260,280,300], "labelExpr": "datum.value%100==0 ? ''+datum.value : ''", "gridColor": {"condition": {"test": "datum.value%100==0", "value": "#d4d4d4"}, "value": "#ececec"}}},
   "order": {"value": null}, "color": {"datum": "Specimen 6", "type": "nominal", "scale": {"range": ["#7030a0"]}, "legend": {"title": null}}}},
  {"data": {"name": "ds"}, "mark": {"type": "rule", "color": "black", "strokeWidth": 3.5, "strokeDash": [9, 5]}, "encoding": {"x": {"datum": -5, "axis": null}, "x2": {"datum": 5}, "y": {"datum": 145, "axis": null}}},
  {"data": {"name": "ds"}, "mark": {"type": "rule", "color": "black", "strokeWidth": 3.5, "strokeDash": [9, 5]}, "encoding": {"x": {"datum": -5, "axis": null}, "x2": {"datum": 5}, "y": {"datum": -120, "axis": null}}},
  {"data": {"name": "ds"}, "mark": {"type": "text", "align": "left", "baseline": "alphabetic", "fontSize": 29, "font": "Liberation Serif", "color": "black"}, "encoding": {"text": {"field": "t"}, "x": {"datum": -5.67, "axis": null}, "y": {"datum": 179, "axis": null}}}
 ]},
{"width": 404, "height": 234, "resolve": {"axis": {"x": "independent", "y": "independent"}},
 "layer": [
  {"data": {"name": "s7"}, "mark": {"type": "line", "strokeWidth": 2.2, "interpolate": "catmull-rom", "clip": true}, "encoding": {
   "x": {"field": "d", "type": "quantitative", "scale": {"domain": [-6, 6], "nice": false, "zero": false}, "axis": {"title": "Inter-storey drift", "values": [-6,-5.6,-5.2,-4.8,-4.4,-4,-3.6,-3.2,-2.8,-2.4,-2,-1.6,-1.2,-0.8,-0.4,0,0.4,0.8,1.2,1.6,2,2.4,2.8,3.2,3.6,4,4.4,4.8,5.2,5.6,6], "labelExpr": "abs(datum.value/2-round(datum.value/2))<0.001 ? datum.value+'%' : ''", "gridColor": {"condition": {"test": "abs(datum.value/2-round(datum.value/2))<0.001", "value": "#d4d4d4"}, "value": "#ececec"}}},
   "y": {"field": "f", "type": "quantitative", "scale": {"domain": [-300, 300], "nice": false, "zero": false}, "axis": {"title": "Force, kN", "values": [-300,-280,-260,-240,-220,-200,-180,-160,-140,-120,-100,-80,-60,-40,-20,0,20,40,60,80,100,120,140,160,180,200,220,240,260,280,300], "labelExpr": "datum.value%100==0 ? ''+datum.value : ''", "gridColor": {"condition": {"test": "datum.value%100==0", "value": "#d4d4d4"}, "value": "#ececec"}}},
   "order": {"value": null}, "color": {"datum": "Specimen 7", "type": "nominal", "scale": {"range": ["#a6a6a6"]}, "legend": {"title": null}}}},
  {"data": {"name": "ds"}, "mark": {"type": "rule", "color": "black", "strokeWidth": 3.5, "strokeDash": [9, 5]}, "encoding": {"x": {"datum": -2.5, "axis": null}, "x2": {"datum": 2.5}, "y": {"datum": 145, "axis": null}}},
  {"data": {"name": "ds"}, "mark": {"type": "rule", "color": "black", "strokeWidth": 3.5, "strokeDash": [9, 5]}, "encoding": {"x": {"datum": -2.5, "axis": null}, "x2": {"datum": 2.5}, "y": {"datum": -120, "axis": null}}},
  {"data": {"name": "ds"}, "mark": {"type": "text", "align": "left", "baseline": "alphabetic", "fontSize": 29, "font": "Liberation Serif", "color": "black"}, "encoding": {"text": {"field": "t"}, "x": {"datum": -5.58, "axis": null}, "y": {"datum": 179, "axis": null}}}
 ]}
], "spacing": 68, "resolve": {"scale": {"color": "independent"}}}
],
"spacing": 70,
"resolve": {"scale": {"color": "independent"}}
}
